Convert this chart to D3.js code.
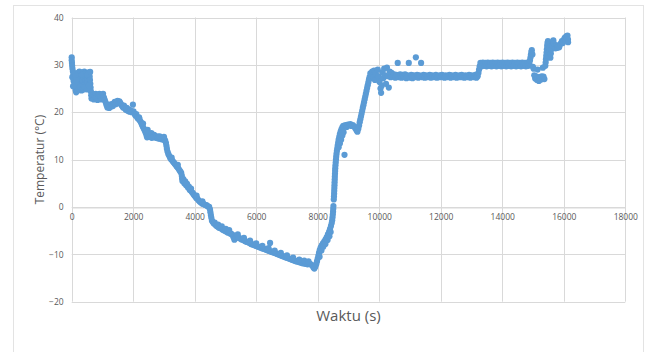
<!DOCTYPE html>
<html>
<head>
<meta charset="utf-8">
<script src="https://cdn.jsdelivr.net/npm/d3@7"></script>
<style>
  html, body { margin: 0; padding: 0; background: #ffffff; }
  svg { display: block; }
  text { font-family: "Open Sans", "Liberation Sans", sans-serif; }
</style>
</head>
<body>
<svg id="chart" width="646" height="352"></svg>
<script>
// Temperature log, [time (s), temperature (°C)] per reading, grouped by phase.
const startPhase = [
  [0,31.6],[0,31.0],[8,30.4],[15,29.8],[25,29.2],[40,28.6],[55,28.0],[70,27.3],[85,26.6],[100,25.9],
  [115,25.2],[130,24.6],[145,24.2],[160,24.8],[175,25.5],[190,26.2],[205,26.9],[220,27.6],[235,28.3],
  [250,28.6],[265,28.0],[280,27.3],[290,26.6],[300,25.9],[310,25.2],[320,24.6],[335,25.4],[350,26.1],
  [365,26.8],[380,27.5],[395,28.2],[410,28.6],[425,28.1],[440,27.4],[450,26.7],[460,26.0],[470,25.4],
  [480,24.9],[495,25.6],[510,26.3],[525,27.0],[540,27.7],[555,28.4],[570,28.2],[585,27.5],[595,26.8],
  [605,26.0],[615,25.2],[625,24.4],[635,23.6],[645,22.9],
  [20,27.4],[45,25.5],[60,26.6],[90,28.2],[120,27.6],[150,26.8],[200,24.6],[210,28.3],[230,25.0],
  [270,25.4],[300,28.4],[330,27.9],[360,24.9],[400,24.8],[430,25.3],[470,28.1],[500,27.9],[520,24.8],
  [560,25.6],[600,28.5]
];

const coolingPhase = [
  [660,23.0],[690,23.6],[720,22.7],[750,23.4],[780,23.9],[810,23.1],[840,22.6],[870,23.5],[900,23.9],
  [930,23.2],[960,22.7],[990,23.6],[1020,23.9],[1050,23.1],[1080,22.5],[1110,22.0],[1135,21.5],
  [1160,21.0],[1190,21.4],[1220,20.9],[1250,21.6],[1280,21.2],[1310,21.7],[1340,21.3],[1370,21.9],
  [1400,22.2],[1430,21.7],[1460,22.1],[1490,22.4],[1520,21.9],[1550,22.3],[1580,22.0],[1610,21.6],
  [1640,21.3],[1670,21.0],[1700,21.4],[1730,20.8],[1760,20.5],[1790,20.9],[1820,20.3],[1850,20.6],
  [1880,20.1],[1910,20.4],[1950,20.0],[1990,21.6],[2010,20.2],[2040,19.7],[2070,19.3],[2100,19.6],
  [2130,18.9],[2160,18.6],[2190,18.9],[2220,18.2],[2250,17.9],[2280,17.4],[2310,17.0],[2340,16.6],
  [2370,16.2],[2400,15.7],[2430,15.2],[2450,14.7],[2470,16.3],[2500,15.5],[2530,14.8],[2560,15.3],
  [2590,15.6],[2620,15.0],[2650,14.7],[2680,15.2],[2710,14.9],[2740,14.6],[2770,14.9],[2800,14.5],
  [2830,14.8],[2860,14.4],[2890,14.6],[2920,14.3],[2950,14.5],[2980,14.2],[3010,14.4],[3040,14.0],
  [3065,13.5],[3080,12.9],[3095,12.3],[3115,11.7],[3140,11.2],[3170,10.8],[3200,10.4],[3230,10.1],
  [3260,9.9],[3290,9.6],[3320,9.4],[3350,9.1],[3380,8.9],[3410,8.6],[3440,8.4],[3470,8.1],[3500,7.8],
  [3530,7.5],[3560,7.2],[3580,6.6],[3590,6.0],[3600,5.5],[3630,5.9],[3660,5.0],[3690,5.4],[3720,4.6],
  [3750,4.9],[3780,4.1],[3810,4.3],[3840,3.6],[3870,3.7],[3900,3.2],[3930,3.0],[3960,2.7],[3990,2.4],
  [4020,2.2],[4050,1.9],[4080,1.8],[4110,1.5],[4140,1.3],[4170,1.1],[4200,1.0],[4230,0.8],[4260,0.7],
  [4290,0.6],[4320,0.5],[4350,0.4],[4380,0.4],[4410,0.2],[4440,0.1],[4470,0.0],[4495,-0.5],
  [4510,-1.1],[4525,-1.7],[4540,-2.3],[4560,-2.9],[4590,-3.2],[4620,-3.5],[4650,-3.3],[4680,-3.8],
  [4710,-4.0],[4750,-4.2],[4790,-4.4],[4830,-4.3],[4870,-4.6],[4910,-4.8],[4950,-4.9],[4990,-5.1],
  [5030,-5.2],[5070,-5.4],[5110,-5.3],[5150,-5.6],[5190,-5.7],[5230,-5.9],[5260,-6.4],[5290,-6.9],
  [5320,-6.6],[5350,-6.2],[5390,-6.3],[5430,-6.5],[5470,-6.6],[5510,-6.8],[5550,-6.9],[5590,-7.0],
  [5630,-7.2],[5670,-7.3],[5710,-7.4],[5750,-7.5],[5790,-7.6],[5830,-7.8],[5870,-7.9],[5910,-8.0],
  [5950,-8.1],[5990,-8.2],[6030,-8.3],[6070,-8.4],[6110,-8.5],[6150,-8.6],[6190,-8.7],[6230,-8.8],
  [6270,-8.9],[6310,-9.0],[6350,-9.1],[6390,-9.2],[6430,-9.3],[6450,-7.6],[6470,-9.4],[6510,-9.5],
  [6550,-9.6],[6590,-9.7],[6630,-9.8],[6670,-9.9],[6710,-10.0],[6750,-10.1],[6790,-10.2],[6830,-10.3],
  [6870,-10.4],[6910,-10.5],[6950,-10.6],[6990,-10.7],[7030,-10.8],[7070,-10.9],[7110,-11.0],
  [7150,-11.1],[7190,-11.2],[7230,-11.3],[7270,-11.4],[7310,-11.5],[7350,-11.5],[7390,-11.6],
  [7430,-11.7],[7470,-11.8],[7510,-11.9],[7550,-11.8],[7590,-12.0],[7630,-11.9],[7670,-12.1],
  [7710,-11.9],[7750,-12.0],[7790,-12.2],[7830,-12.4],[7860,-12.8],[7890,-13.0],[7920,-12.6],
  // scattered readings around the cooling curve
  [4760,-3.7],[4880,-4.1],[5010,-4.6],[5120,-4.9],[5400,-5.8],[5600,-6.5],[5800,-7.1],[6000,-7.7],
  [6200,-8.2],[6400,-8.7],[6600,-9.2],[6800,-9.7],[7000,-10.2],[7200,-10.7],[7400,-11.1],[7560,-11.3],
  [7700,-11.5],[2200,18.7],[2320,17.6],[2420,16.1],[2600,14.6],[2860,14.9],[3000,14.8],[3250,10.4],
  [3450,8.9],[3700,5.2],[3880,3.9],[4060,2.4],[4250,1.2]
];

const heatingPhase = [
  [7950,-12.1],[7975,-11.5],[8000,-10.9],[8020,-10.3],[8040,-9.7],[8065,-9.1],[8095,-8.6],[8130,-8.1],
  [8170,-7.7],[8210,-7.3],[8250,-6.9],[8290,-6.4],[8330,-5.8],[8370,-5.2],[8400,-4.6],[8430,-4.0],
  [8455,-3.4],[8470,-2.8],[8480,-2.2],[8490,-1.6],[8498,-1.0],[8504,-0.4],[8510,0.2],[8522,1.6],
  [8527,2.2],[8532,2.8],[8536,3.4],[8540,4.0],[8544,4.6],[8548,5.2],[8552,5.8],[8556,6.4],[8560,7.0],
  [8565,7.6],[8570,8.2],[8576,8.8],[8584,9.4],[8592,10.0],[8600,10.6],[8610,11.2],[8622,11.8],
  [8636,12.4],[8650,13.0],[8665,13.6],[8680,14.2],[8700,14.8],[8720,15.4],[8745,15.9],[8770,16.4],
  [8800,16.8],[8830,17.1],[8680,12.6],[8720,13.4],[8760,14.2],[8800,15.1],[8840,15.8],[8870,11.0],
  [8900,17.3],[8940,16.9],[8980,17.4],[9020,17.2],[9060,17.5],[9100,17.1],[9140,17.3],[9180,17.0],
  [9220,16.6],[9260,16.2],[9290,15.9],[9320,16.5],[9345,17.2],[9365,17.9],[9385,18.5],[9405,19.1],
  [9425,19.7],[9445,20.3],[9465,20.9],[9485,21.5],[9505,22.1],[9525,22.7],[9545,23.3],[9565,23.9],
  [9585,24.5],[9605,25.1],[9625,25.7],[9645,26.3],[9665,26.9],[9685,27.4],[8060,-10.5],[8120,-9.2],
  [8180,-8.4],[8250,-7.8],[8320,-7.0],[8380,-6.2],[8420,-5.3]
];

const warmPlateau = [
  [9710,28.2],[9740,27.2],[9770,28.6],[9800,27.4],[9830,28.8],[9860,26.8],[9890,28.2],[9920,27.0],
  [9950,29.0],[9980,27.5],[10010,26.4],[10040,25.0],[10060,24.1],[10080,25.6],[10100,28.4],
  [10130,27.2],[10160,29.2],[10190,27.8],[10220,26.0],[10250,29.4],[10280,27.6],[10310,25.2],
  [10340,28.6],[10370,27.4],[10400,28.3],[10440,27.5],[10480,28.0],[10520,27.3],[10560,27.9],
  [10640,27.4],[10680,28.0],[10720,27.3],[10760,27.9],[10800,27.4],[10840,28.0],[10880,27.2],
  [10920,27.8],[11000,27.3],[11040,27.9],[11080,27.2],[11120,27.8],[11160,27.4],[11230,27.9],
  [11270,27.3],[11310,27.8],[11400,27.4],[11440,27.9],[11480,27.3],[11520,27.8],[11560,27.4],
  [11640,27.9],[11680,27.3],[11720,27.8],[11800,27.4],[11840,27.9],[11880,27.3],[11960,27.8],
  [12000,27.4],[12040,27.9],[12120,27.3],[12160,27.8],[12200,27.4],[12280,27.9],[12320,27.3],
  [12360,27.8],[12440,27.4],[12480,27.9],[12520,27.3],[12600,27.8],[12640,27.4],[12680,27.9],
  [12760,27.3],[12800,27.8],[12840,27.4],[12920,27.9],[12960,27.3],[13000,27.8],[13080,27.4],
  [13120,27.9],[13160,27.3],[13200,27.6],
  [10600,30.4],[10960,30.4],[11190,31.6],[11360,30.4]
];

const finalPhase = [
  [13225,28.3],[13245,29.0],[13265,29.7],[13290,30.4],[13330,29.7],[13370,30.5],[13410,29.8],
  [13450,30.4],[13490,29.7],[13530,30.5],[13570,29.8],[13610,30.4],[13650,29.7],[13690,30.5],
  [13730,29.8],[13770,30.4],[13810,29.7],[13850,30.5],[13890,29.8],[13930,30.4],[13970,29.7],
  [14010,30.5],[14050,29.8],[14090,30.4],[14130,29.7],[14170,30.5],[14210,29.8],[14250,30.4],
  [14290,29.7],[14330,30.5],[14370,29.8],[14410,30.4],[14450,29.7],[14490,30.5],[14530,29.8],
  [14570,30.4],[14610,29.7],[14650,30.5],[14690,29.8],[14730,30.4],[14770,29.7],[14810,30.5],
  [14850,29.8],[14880,30.3],[14900,30.9],[14915,31.5],[14930,32.1],[14945,32.7],[14960,33.1],
  [14980,32.2],[14995,29.6],[15020,29.2],[15040,27.8],[15070,27.1],[15100,27.6],[15130,26.8],
  [15160,27.3],[15190,26.6],[15220,27.4],[15250,26.9],[15280,27.6],[15310,27.0],[15340,27.5],
  [15370,27.0],[15150,29.0],[15320,29.4],[15400,29.8],[15410,30.5],[15420,31.2],[15430,31.9],
  [15440,32.6],[15450,33.3],[15460,34.0],[15470,34.6],[15485,35.0],[15505,34.4],[15520,33.6],
  [15535,32.8],[15550,32.1],[15565,31.5],[15580,32.4],[15600,33.3],[15620,34.1],[15640,34.8],
  [15660,35.2],[15680,34.5],[15700,33.8],[15730,33.5],[15760,34.0],[15790,33.6],[15820,34.1],
  [15850,33.7],[15880,34.3],[15910,34.6],[15940,35.0],[15970,34.6],[16000,35.3],[16030,35.7],
  [16060,35.2],[16080,36.0],[16100,35.6],[16120,36.2],[16135,35.4],[16140,34.8]
];

const readings = [].concat(startPhase, coolingPhase, heatingPhase, warmPlateau, finalPhase);

const xTicks = [0, 2000, 4000, 6000, 8000, 10000, 12000, 14000, 16000, 18000];
const yTicks = [-20, -10, 0, 10, 20, 30, 40];
const xTitle = "Waktu (s)";
const yTitle = "Temperatur (°C)";

const svg = d3.select("#chart");
const plot = { left: 71.7, right: 625.3, top: 17.5, bottom: 301.7 };

const x = d3.scaleLinear().domain([0, 18000]).range([plot.left, plot.right]);
const y = d3.scaleLinear().domain([-20, 40]).range([plot.bottom, plot.top]);

// outer chart frame
svg.append("rect")
  .attr("x", 13.5).attr("y", 5.5)
  .attr("width", 630).attr("height", 360)
  .attr("fill", "none")
  .attr("stroke", "#e3e3e3")
  .attr("stroke-width", 1);

// gridlines
const grid = svg.append("g").attr("stroke", "#d9d9d9").attr("stroke-width", 1);
grid.selectAll("line.v").data(xTicks).join("line")
  .attr("class", "v")
  .attr("x1", d => Math.round(x(d)) + 0.5).attr("x2", d => Math.round(x(d)) + 0.5)
  .attr("y1", plot.top).attr("y2", plot.bottom);
grid.selectAll("line.h").data(yTicks).join("line")
  .attr("class", "h")
  .attr("x1", plot.left).attr("x2", plot.right)
  .attr("y1", d => Math.round(y(d)) + 0.5).attr("y2", d => Math.round(y(d)) + 0.5);

// x axis labels sit under the zero line
const xAxis = svg.append("g")
  .attr("transform", `translate(0,${Math.round(y(0)) + 0.5})`)
  .call(d3.axisBottom(x).tickValues(xTicks).tickFormat(d3.format("d")).tickSize(0).tickPadding(6));
xAxis.select(".domain").attr("stroke", "#d9d9d9");

const yAxis = svg.append("g")
  .attr("transform", `translate(${plot.left},0)`)
  .call(d3.axisLeft(y).tickValues(yTicks).tickFormat(d3.format("d")).tickSize(0).tickPadding(8));
yAxis.select(".domain").remove();

svg.selectAll(".tick text")
  .attr("fill", "#595959")
  .attr("font-size", "8.5px")
  .attr("font-family", "'Open Sans', sans-serif");

// readings
svg.append("g")
  .selectAll("circle")
  .data(readings)
  .join("circle")
  .attr("cx", d => x(d[0]))
  .attr("cy", d => y(d[1]))
  .attr("r", 3.1)
  .attr("fill", "#5b9bd5");

// axis titles
svg.append("text")
  .attr("x", (plot.left + plot.right) / 2)
  .attr("y", 321)
  .attr("text-anchor", "middle")
  .attr("font-size", "15px")
  .attr("fill", "#595959")
  .text(xTitle);

svg.append("text")
  .attr("transform", `translate(44,${(plot.top + plot.bottom) / 2}) rotate(-90)`)
  .attr("text-anchor", "middle")
  .attr("font-size", "12px")
  .attr("fill", "#595959")
  .text(yTitle);
</script>
</body>
</html>
